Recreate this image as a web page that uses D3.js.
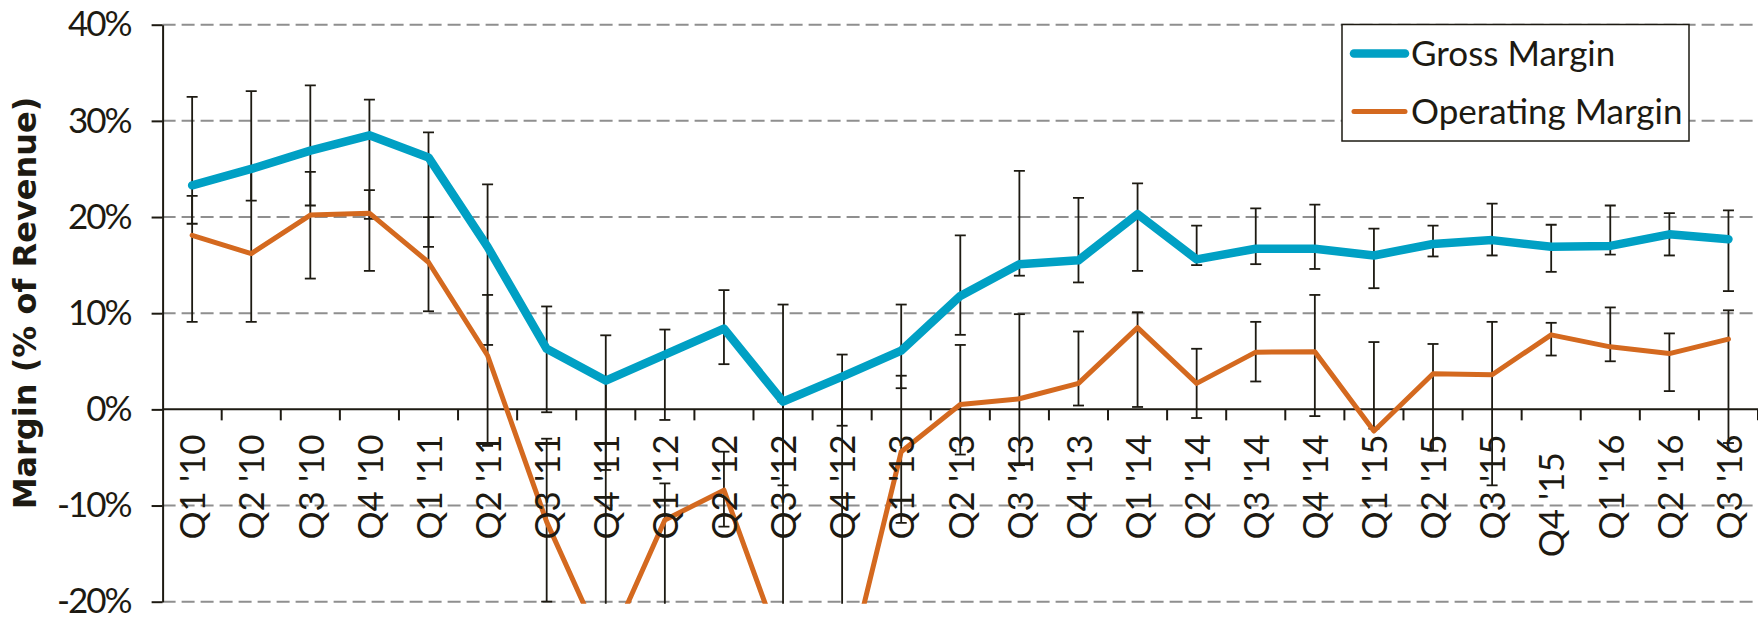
<!DOCTYPE html>
<html>
<head>
<meta charset="utf-8">
<script src="https://cdn.jsdelivr.net/npm/d3@7"></script>
<style>
  html, body { margin: 0; padding: 0; background: #ffffff; }
  svg { display: block; }
  text { fill: #1d1a12; }
</style>
</head>
<body>
<svg id="chart" width="1758" height="621"></svg>
<script>
// Quarterly margins, % of revenue
const quarters = ["Q1 '10", "Q2 '10", "Q3 '10", "Q4 '10", "Q1 '11", "Q2 '11", "Q3 '11", "Q4 '11",
  "Q1 '12", "Q2 '12", "Q3 '12", "Q4 '12", "Q1 '13", "Q2 '13", "Q3 '13", "Q4 '13",
  "Q1 '14", "Q2 '14", "Q3 '14", "Q4 '14", "Q1 '15", "Q2 '15", "Q3 '15", "Q4 '15\u00a0\u00a0",
  "Q1 '16", "Q2 '16", "Q3 '16"];

const grossMargin = [23.3, 25.0, 26.9, 28.5, 26.2, 16.9, 6.3, 3.0, 5.7, 8.4, 0.8, 3.4, 6.1, 11.8,
  15.1, 15.5, 20.3, 15.6, 16.7, 16.7, 16.0, 17.2, 17.6, 16.9, 17.0, 18.2, 17.7];
const grossLow = [19.3, 21.7, 21.2, 19.8, 16.9, 6.7, -0.3, -6.3, -1.1, 4.7, -7.9, -1.7, 2.2, 7.75,
  13.9, 13.2, 14.4, 15.0, 15.1, 14.6, 12.6, 15.9, 16.0, 14.3, 16.1, 16.0, 12.3];
const grossHigh = [32.5, 33.1, 33.7, 32.2, 28.8, 23.4, 10.7, 7.7, 8.3, 12.4, 10.9, 5.7, 10.9, 18.1,
  24.8, 22.0, 23.5, 19.1, 20.9, 21.3, 18.8, 19.1, 21.4, 19.2, 21.2, 20.4, 20.7];

const operatingMargin = [18.1, 16.2, 20.2, 20.4, 15.3, 5.6, -11.7, -25.3, -11.5, -8.4, -25.3, -29.6,
  -4.4, 0.5, 1.1, 2.7, 8.5, 2.7, 5.95, 6.0, -2.25, 3.7, 3.6, 7.75, 6.5, 5.8, 7.3];
const operatingLow = [9.1, 9.1, 13.6, 14.4, 10.2, -3.8, -20.0, -32.0, -28.0, -12.2, -34.0, -40.0,
  -11.8, -4.7, -5.8, 0.4, 0.25, -0.9, 2.9, -0.7, -2.0, -4.3, -7.9, 5.6, 5.0, 1.9, -3.5];
const operatingHigh = [22.2, 25.0, 24.7, 22.8, 20.0, 11.9, -3.05, 3.0, -7.7, -4.4, 0.8, 3.4,
  3.5, 6.7, 9.9, 8.1, 10.1, 6.3, 9.1, 11.9, 7.0, 6.8, 9.1, 9.0, 10.6, 7.9, 10.3];

const yTicks = [-20, -10, 0, 10, 20, 30, 40];
const seriesNames = ["Gross Margin", "Operating Margin"];

const ink = "#1d1a12";
const colors = { gross: "#00a0c4", operating: "#d4691f" };
const bodyFont = "Lato, 'Open Sans', sans-serif";

const W = 1758, H = 621;
const plotLeft = 162.6, plotTop = 24.7, plotBottom = 601.7;

const svg = d3.select("#chart");

const x = d3.scaleBand().domain(quarters).range([plotLeft, W]).padding(0);
const y = d3.scaleLinear().domain([-20, 40]).range([plotBottom, plotTop]);
const cx = q => x(q) + x.bandwidth() / 2;

svg.append("defs").append("clipPath").attr("id", "plot-clip")
  .append("rect").attr("x", plotLeft).attr("y", plotTop - 20)
  .attr("width", W - plotLeft).attr("height", plotBottom - plotTop + 22);

// dashed gridlines
svg.append("g").selectAll("line").data(yTicks.filter(t => t !== 0)).join("line")
  .attr("x1", plotLeft).attr("x2", W)
  .attr("y1", d => y(d)).attr("y2", d => y(d))
  .attr("stroke", "#8f8f8f").attr("stroke-width", 2).attr("stroke-dasharray", "13,6");

// y axis
const yAxis = svg.append("g").attr("transform", `translate(${plotLeft},0)`)
  .call(d3.axisLeft(y).tickValues(yTicks).tickFormat(d => d + "%").tickSize(11).tickSizeOuter(0).tickPadding(21));
yAxis.select(".domain").attr("stroke", ink).attr("stroke-width", 2);
yAxis.selectAll(".tick line").attr("stroke", ink).attr("stroke-width", 2);
yAxis.selectAll(".tick text")
  .style("font-family", bodyFont).style("font-size", "35px").style("letter-spacing", "-2px")
  .attr("fill", ink);

// x axis at zero with ticks on category boundaries
const y0 = y(0);
const xAxis = svg.append("g");
xAxis.append("line").attr("x1", plotLeft).attr("x2", W).attr("y1", y0).attr("y2", y0)
  .attr("stroke", ink).attr("stroke-width", 2);
xAxis.selectAll("line.tick").data(quarters).join("line").attr("class", "tick")
  .attr("x1", d => x(d) + x.bandwidth()).attr("x2", d => x(d) + x.bandwidth())
  .attr("y1", y0).attr("y2", y0 + 11)
  .attr("stroke", ink).attr("stroke-width", 2);

// error bars
const capHalf = 5.5;
function errorBars(low, high) {
  const g = svg.append("g").attr("clip-path", "url(#plot-clip)")
    .attr("stroke", ink).attr("stroke-width", 1.8);
  const rows = quarters.map((q, i) => ({ q, lo: low[i], hi: high[i] }));
  g.selectAll("line.stem").data(rows).join("line").attr("class", "stem")
    .attr("x1", d => cx(d.q)).attr("x2", d => cx(d.q))
    .attr("y1", d => y(d.lo)).attr("y2", d => y(d.hi));
  g.selectAll("line.caplo").data(rows).join("line").attr("class", "caplo")
    .attr("x1", d => cx(d.q) - capHalf).attr("x2", d => cx(d.q) + capHalf)
    .attr("y1", d => y(d.lo)).attr("y2", d => y(d.lo));
  g.selectAll("line.caphi").data(rows).join("line").attr("class", "caphi")
    .attr("x1", d => cx(d.q) - capHalf).attr("x2", d => cx(d.q) + capHalf)
    .attr("y1", d => y(d.hi)).attr("y2", d => y(d.hi));
}
errorBars(grossLow, grossHigh);
errorBars(operatingLow, operatingHigh);

// series lines
const line = d3.line().x(d => cx(d.q)).y(d => y(d.v));
function drawSeries(values, color, width) {
  svg.append("path")
    .datum(quarters.map((q, i) => ({ q, v: values[i] })))
    .attr("clip-path", "url(#plot-clip)")
    .attr("d", line)
    .attr("fill", "none").attr("stroke", color).attr("stroke-width", width)
    .attr("stroke-linejoin", "round").attr("stroke-linecap", "round");
}
drawSeries(grossMargin, colors.gross, 8.5);
drawSeries(operatingMargin, colors.operating, 5);

// rotated quarter labels
svg.append("g").selectAll("text").data(quarters).join("text")
  .attr("transform", d => `translate(${cx(d) + 1},${y0 + 25}) rotate(-90)`)
  .attr("text-anchor", "end").attr("dy", "0.35em")
  .style("font-family", bodyFont).style("font-size", "35px").style("white-space", "pre")
  .text(d => d);

// y axis title
svg.append("text")
  .attr("transform", `translate(36,303) rotate(-90)`)
  .attr("text-anchor", "middle")
  .style("font-family", "'DejaVu Sans', sans-serif").style("font-weight", "bold").style("font-size", "32px")
  .text("Margin (% of Revenue)");

// legend
const legend = svg.append("g");
legend.append("rect").attr("x", 1342).attr("y", 24.5).attr("width", 347).attr("height", 116.5)
  .attr("fill", "#ffffff").attr("stroke", ink).attr("stroke-width", 1.5);
const legendItems = [
  { name: seriesNames[0], color: colors.gross, width: 8.5, cy: 53.5 },
  { name: seriesNames[1], color: colors.operating, width: 5, cy: 111.5 }
];
legendItems.forEach(it => {
  legend.append("line").attr("x1", 1354).attr("x2", 1405).attr("y1", it.cy).attr("y2", it.cy)
    .attr("stroke", it.color).attr("stroke-width", it.width).attr("stroke-linecap", "round");
  legend.append("text").attr("x", 1411).attr("y", it.cy).attr("dy", "0.35em")
    .style("font-family", bodyFont).style("font-size", "35px")
    .text(it.name);
});
</script>
</body>
</html>
